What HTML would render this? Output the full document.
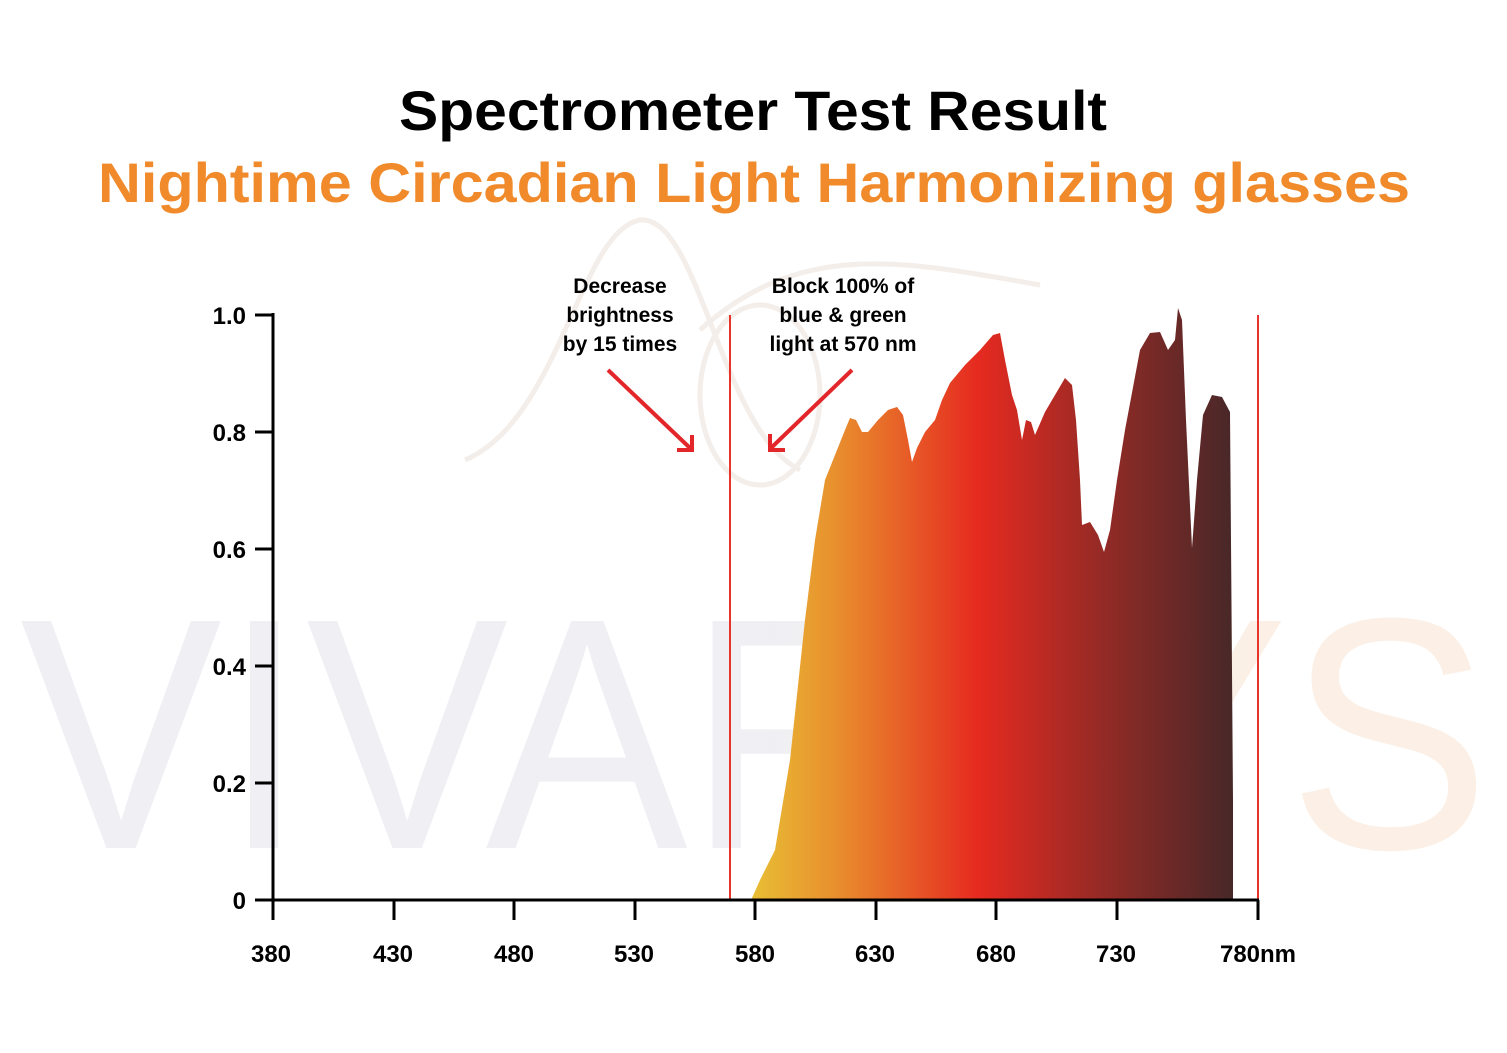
<!DOCTYPE html>
<html><head><meta charset="utf-8"><style>
html,body{margin:0;padding:0;background:#fff}
svg{display:block}
text{font-family:"Liberation Sans",sans-serif;font-weight:bold}
</style></head><body>
<svg width="1507" height="1053" viewBox="0 0 1507 1053" xmlns="http://www.w3.org/2000/svg">
<defs>
<linearGradient id="g" x1="752" y1="0" x2="1233" y2="0" gradientUnits="userSpaceOnUse">
<stop offset="0" stop-color="#e8be34"/>
<stop offset="0.17" stop-color="#e8902e"/>
<stop offset="0.47" stop-color="#e62a20"/>
<stop offset="0.75" stop-color="#8e2a26"/>
<stop offset="1" stop-color="#482828"/>
</linearGradient>
<linearGradient id="w" x1="20" y1="0" x2="1490" y2="0" gradientUnits="userSpaceOnUse">
<stop offset="0.5" stop-color="#efeff4"/>
<stop offset="0.62" stop-color="#f3eeec"/>
<stop offset="0.85" stop-color="#fcf0e6"/>
</linearGradient>
</defs>
<text x="20" y="848" font-size="330" fill="url(#w)" textLength="1470" lengthAdjust="spacingAndGlyphs" style="font-weight:normal">VIVARAYS</text>
<g fill="none" stroke="#f4eeea" stroke-width="5">
<path d="M465 460 C560 420 580 230 640 220 C700 215 720 430 800 470"/>
<ellipse cx="760" cy="395" rx="60" ry="90"/>
<path d="M700 330 C800 240 900 260 1040 285"/>
</g>
<text x="753" y="130" font-size="56" fill="#000" text-anchor="middle" textLength="708" lengthAdjust="spacingAndGlyphs">Spectrometer Test Result</text>
<text x="754" y="202" font-size="56" fill="#f08a2a" text-anchor="middle" textLength="1312" lengthAdjust="spacingAndGlyphs">Nightime Circadian Light Harmonizing glasses</text>
<path fill="url(#g)" d="M752 898 L760 880 L775 850 L790 760 L805 620 L815 540 L825 480 L835 455 L845 430 L850 418 L856 420 L862 432 L868 432 L878 420 L888 410 L897 407 L903 415 L908 440 L912 462 L917 448 L925 432 L935 420 L942 400 L950 383 L965 365 L980 350 L993 335 L1000 333 L1005 360 L1012 395 L1017 410 L1022 440 L1026 420 L1031 422 L1035 435 L1045 412 L1055 395 L1065 378 L1072 385 L1076 420 L1080 480 L1082 525 L1090 522 L1098 535 L1104 552 L1110 530 L1117 480 L1125 430 L1140 350 L1150 333 L1160 332 L1168 350 L1175 340 L1178 308 L1182 320 L1186 420 L1192 548 L1197 480 L1203 415 L1212 395 L1222 397 L1230 412 L1233 800 L1233 900 L752 900 Z"/>
<g stroke="#e8342a" stroke-width="2"><line x1="730" y1="315" x2="730" y2="900"/><line x1="1258" y1="315" x2="1258" y2="900"/></g>
<g stroke="#000" stroke-width="3" fill="none">
<line x1="273" y1="313" x2="273" y2="902"/><line x1="271" y1="900" x2="1259" y2="900"/>
<path d="M255 315H273M255 432H273M255 549H273M255 666H273M255 783H273M255 900H273"/>
<path d="M273 900V920M394 900V920M514 900V920M635 900V920M755 900V920M876 900V920M996 900V920M1117 900V920M1258 900V920"/>
</g>
<g font-size="24" fill="#000" text-anchor="end">
<text x="246" y="324">1.0</text><text x="246" y="441">0.8</text><text x="246" y="558">0.6</text><text x="246" y="675">0.4</text><text x="246" y="792">0.2</text><text x="246" y="909">0</text>
</g>
<g font-size="24" fill="#000" text-anchor="middle">
<text x="271" y="962">380</text><text x="393" y="962">430</text><text x="514" y="962">480</text><text x="634" y="962">530</text><text x="755" y="962">580</text><text x="875" y="962">630</text><text x="996" y="962">680</text><text x="1116" y="962">730</text><text x="1258" y="962">780nm</text>
</g>
<g font-size="21" fill="#000" text-anchor="middle">
<text x="620" y="293">Decrease</text><text x="620" y="322">brightness</text><text x="620" y="351">by 15 times</text>
<text x="843" y="293">Block 100% of</text><text x="843" y="322">blue &amp; green</text><text x="843" y="351">light at 570 nm</text>
</g>
<g stroke="#e3262a" stroke-width="4" fill="none">
<line x1="608" y1="370" x2="690" y2="448"/><path d="M677 450H692V435"/>
<line x1="852" y1="370" x2="771" y2="448"/><path d="M770 434V450H785"/>
</g>
</svg>
</body></html>
